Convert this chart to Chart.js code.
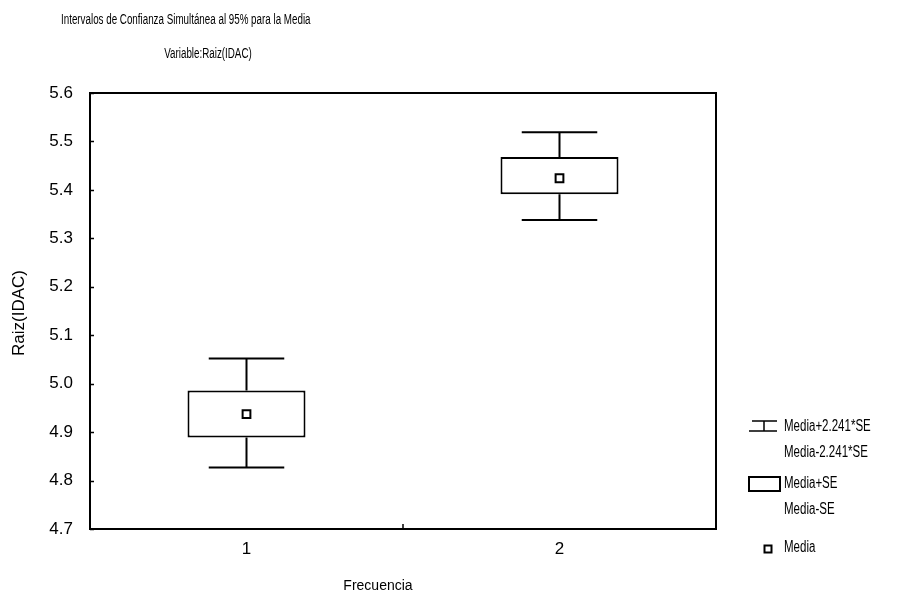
<!DOCTYPE html>
<html>
<head>
<meta charset="utf-8">
<script src="https://cdn.jsdelivr.net/npm/chart.js@4/dist/chart.umd.min.js"></script>
<style>
  html, body { margin: 0; padding: 0; background: #ffffff; }
  #wrap { width: 919px; height: 597px; position: relative; }
</style>
</head>
<body>
<div id="wrap"><canvas id="chart" width="919" height="597"></canvas></div>
<script>
// Groups on the x axis
const categories = ['1', '2'];
// Mean of Raiz(IDAC) per group
const mediaValues = [4.937, 5.424];
// Mean - SE / Mean + SE
const seLow  = [4.889, 5.391];
const seHigh = [4.986, 5.468];
// Mean - 2.241*SE / Mean + 2.241*SE
const ciLow  = [4.827, 5.338];
const ciHigh = [5.052, 5.519];
// Y axis range and tick step
const yMin = 4.7, yMax = 5.6, yStep = 0.1;

const titleText = 'Intervalos de Confianza Simultánea al 95% para la Media';
const subtitleText = 'Variable:Raiz(IDAC)';
const yTitleText = 'Raiz(IDAC)';
const xTitleText = 'Frecuencia';
const legendLabels = ['Media+2.241*SE', 'Media-2.241*SE', 'Media+SE', 'Media-SE', 'Media'];

const INK = '#000000';
const FAMILY = '"Liberation Sans", Arial, sans-serif';

// Condensed text: regular face squeezed horizontally
function narrowText(ctx, text, x, y, size, sx, align) {
  ctx.save();
  ctx.font = size + 'px ' + FAMILY;
  ctx.fillStyle = INK;
  ctx.textBaseline = 'middle';
  ctx.textAlign = 'left';
  const w = ctx.measureText(text).width * sx;
  let left = x;
  if (align === 'center') left = x - w / 2;
  ctx.translate(left, y);
  ctx.scale(sx, 1);
  ctx.fillText(text, 0, 0);
  ctx.restore();
}

// Whiskers for the 2.241*SE interval, drawn from the y scale
const whiskerPlugin = {
  id: 'whiskers',
  afterDatasetsDraw(chart) {
    const ctx = chart.ctx;
    const xs = chart.scales.x, ys = chart.scales.y;
    const meta = chart.getDatasetMeta(0);
    ctx.save();
    ctx.strokeStyle = INK;
    ctx.lineWidth = 2;
    ctx.lineCap = 'butt';
    categories.forEach((c, i) => {
      const cx = xs.getPixelForValue(i);
      const half = meta.data[i].width * 0.32;
      const yHi = ys.getPixelForValue(ciHigh[i]);
      const yLo = ys.getPixelForValue(ciLow[i]);
      const bHi = ys.getPixelForValue(seHigh[i]);
      const bLo = ys.getPixelForValue(seLow[i]);
      ctx.beginPath();
      ctx.moveTo(cx, bHi); ctx.lineTo(cx, yHi);
      ctx.moveTo(cx - half, yHi); ctx.lineTo(cx + half, yHi);
      ctx.moveTo(cx, bLo); ctx.lineTo(cx, yLo);
      ctx.moveTo(cx - half, yLo); ctx.lineTo(cx + half, yLo);
      ctx.stroke();
    });
    ctx.restore();
  }
};

// Plot frame, inward ticks, titles and legend
const framePlugin = {
  id: 'frame',
  afterDraw(chart) {
    const ctx = chart.ctx;
    const a = chart.chartArea;
    const ys = chart.scales.y, xs = chart.scales.x;
    ctx.save();
    ctx.strokeStyle = INK;
    ctx.lineWidth = 2;
    ctx.strokeRect(a.left, a.top, a.right - a.left, a.bottom - a.top);
    ctx.lineWidth = 1.5;
    ctx.beginPath();
    for (let v = yMin; v <= yMax + 1e-9; v += yStep) {
      const py = Math.round(ys.getPixelForValue(v)) + 0.5;
      ctx.moveTo(a.left, py); ctx.lineTo(a.left + 4, py);
    }
    const mid = (xs.getPixelForValue(0) + xs.getPixelForValue(1)) / 2;
    ctx.moveTo(mid, a.bottom); ctx.lineTo(mid, a.bottom - 5);
    ctx.stroke();

    // titles
    narrowText(ctx, titleText, 61, 20, 14, 0.7, 'left');
    narrowText(ctx, subtitleText, 208, 54, 14, 0.7, 'center');

    // axis titles
    ctx.fillStyle = INK;
    ctx.font = '17px ' + FAMILY;
    ctx.textAlign = 'center';
    ctx.textBaseline = 'middle';
    ctx.save();
    ctx.translate(19, 313);
    ctx.rotate(-Math.PI / 2);
    ctx.fillText(yTitleText, 0, 0);
    ctx.restore();
    ctx.font = '14px ' + FAMILY;
    ctx.fillText(xTitleText, 378, 586);

    // legend symbols
    ctx.strokeStyle = INK;
    ctx.lineWidth = 1.5;
    ctx.beginPath();
    ctx.moveTo(752, 421); ctx.lineTo(777, 421);
    ctx.moveTo(764, 421); ctx.lineTo(764, 431);
    ctx.moveTo(749, 431); ctx.lineTo(777, 431);
    ctx.stroke();
    ctx.lineWidth = 2;
    ctx.strokeRect(749, 477, 31, 14);
    ctx.strokeRect(764.5, 545.5, 7, 7);

    // legend labels
    const ly = [427, 453, 484, 510, 548];
    legendLabels.forEach((t, i) => narrowText(ctx, t, 784, ly[i], 16, 0.72, 'left'));
    ctx.restore();
  }
};

new Chart(document.getElementById('chart'), {
  type: 'bar',
  data: {
    labels: categories,
    datasets: [
      {
        label: 'Media±SE',
        data: categories.map((c, i) => [seLow[i], seHigh[i]]),
        backgroundColor: '#ffffff',
        borderColor: INK,
        borderWidth: 2,
        borderSkipped: false,
        barPercentage: 0.377,
        categoryPercentage: 1.0,
        order: 2
      },
      {
        type: 'line',
        label: 'Media',
        data: mediaValues,
        showLine: false,
        pointStyle: 'rect',
        pointRadius: 5.5,
        pointBorderWidth: 2,
        pointBackgroundColor: '#ffffff',
        pointBorderColor: INK,
        order: 1
      }
    ]
  },
  options: {
    responsive: false,
    animation: false,
    events: [],
    layout: { padding: { top: 93, right: 203, left: 0, bottom: 0 } },
    plugins: {
      legend: { display: false },
      title: { display: false },
      tooltip: { enabled: false }
    },
    scales: {
      x: {
        type: 'category',
        offset: true,
        grid: { display: false, drawTicks: false },
        border: { display: false },
        ticks: { color: INK, padding: 10, font: { family: FAMILY, size: 17 } },
        afterFit(s) { s.height = 68; }
      },
      y: {
        min: yMin,
        max: yMax,
        grid: { display: false, drawTicks: false },
        border: { display: false },
        ticks: {
          stepSize: yStep,
          color: INK,
          padding: 17,
          font: { family: FAMILY, size: 17 },
          callback: v => Number(v).toFixed(1)
        },
        afterFit(s) { s.width = 90; }
      }
    }
  },
  plugins: [whiskerPlugin, framePlugin]
});
</script>
</body>
</html>
